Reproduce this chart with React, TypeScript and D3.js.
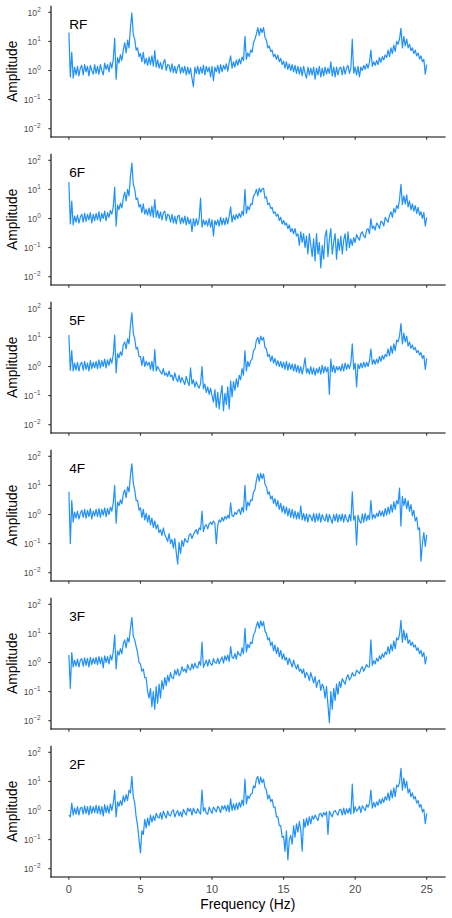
import React from "react";
import * as d3 from "d3";

// Frequency grid: 0 to 25 Hz, one reading every 0.1 Hz
const freqHz = d3.range(251).map((i) => i / 10);

const panelLabels = ["RF", "6F", "5F", "4F", "3F", "2F"];
const xTicks = [0, 5, 10, 15, 20, 25];
const yTicks = [-2, -1, 0, 1, 2];

// Amplitude, one row per Hz (x.0 ... x.9), last value at 25.0 Hz
const ampRF = [
  20, 0.6, 4.2, 0.55, 1.3, 0.7, 1.4, 0.65, 1.2, 1.5,
  0.7, 1.6, 0.9, 1.4, 0.65, 1.5, 1.0, 0.75, 1.6, 0.8,
  1.4, 0.75, 1.6, 1.0, 0.7, 1.8, 1.1, 1.6, 0.9, 1.9,
  1.2, 2.4, 13, 0.5, 2.8, 1.8, 3.5, 2.2, 5, 9,
  4, 11, 6, 30, 95, 17, 12, 5, 6, 3,
  3.8, 2, 4.2, 1.7, 2.6, 1.5, 2.9, 1.6, 3.2, 1.4,
  4.8, 1.3, 2.3, 1.2, 1.9, 1.1, 1.8, 2.4, 1.0, 1.6,
  1.5, 0.9, 1.7, 0.85, 1.4, 0.8, 1.3, 1.6, 0.8, 1.3,
  0.85, 1.4, 0.7, 1.3, 0.75, 1.2, 0.55, 0.28, 1.3, 0.8,
  1.4, 0.75, 1.3, 0.8, 1.5, 0.7, 1.4, 0.9, 1.3, 0.6,
  1.4, 0.45, 1.3, 0.9, 1.5, 0.8, 1.6, 0.9, 1.5, 1.1,
  1.7, 0.95, 1.9, 3.2, 1.2, 2.0, 1.3, 2.3, 1.5, 2.5,
  1.7, 2.9, 2.2, 15, 2.4, 4, 3, 5, 4.2, 9,
  12, 18, 30, 16, 28, 20, 30, 14, 11, 6,
  7, 4.5, 5, 3, 3.6, 2.4, 3.4, 2.0, 2.6, 1.6,
  2.1, 1.2, 2.0, 1.1, 1.7, 1.0, 1.6, 0.9, 1.5, 0.8,
  1.4, 0.75, 1.3, 0.65, 1.4, 0.8, 0.55, 1.3, 0.7, 1.2,
  0.7, 1.3, 0.5, 1.2, 0.7, 1.4, 0.6, 1.2, 0.65, 1.3,
  0.75, 1.2, 0.8, 2.0, 0.65, 1.3, 0.6, 1.3, 0.7, 1.2,
  1.3, 0.7, 1.4, 0.75, 1.2, 1.5, 0.8, 1.2, 12, 0.8,
  1.3, 0.7, 1.4, 0.6, 1.3, 1.0, 1.5, 1.1, 1.7, 1.2,
  1.9, 5, 1.4, 2.0, 1.5, 2.2, 1.6, 2.8, 1.9, 3.0,
  2.3, 3.4, 2.8, 5, 3, 6, 3.8, 7.5, 4.5, 10,
  8, 12, 28, 6, 15, 7, 12, 6, 8, 4.8,
  6, 3.8, 5, 3.2, 4, 2.5, 3.2, 2.0, 2.4, 0.75,
  1.6,
];

const amp6F = [
  18, 0.65, 4, 0.6, 1.2, 0.75, 1.3, 0.7, 1.1, 1.4,
  0.75, 1.5, 0.8, 1.4, 0.9, 1.6, 0.7, 1.4, 0.85, 1.5,
  0.9, 1.7, 0.8, 1.5, 1.0, 1.8, 0.85, 1.6, 1.1, 1.9,
  1.4, 2.5, 12, 0.55, 2.9, 2.0, 3.4, 2.3, 5, 8,
  4, 10, 6, 28, 80, 15, 10, 4.5, 5, 2.5,
  3, 1.6, 3.2, 1.4, 2.1, 1.3, 2.3, 1.2, 2.6, 1.1,
  4.5, 1.1, 1.9, 1.0, 1.7, 0.9, 1.6, 1.8, 0.85, 1.4,
  1.3, 0.75, 1.4, 0.7, 1.2, 0.65, 1.2, 1.3, 0.65, 1.1,
  0.7, 1.2, 0.6, 1.1, 0.65, 0.95, 0.35, 1.0, 0.55, 1.0,
  0.6, 0.95, 5, 0.5, 0.9, 0.6, 0.85, 0.55, 1.0, 0.5,
  0.9, 0.25, 0.85, 0.6, 0.9, 0.55, 1.1, 0.6, 1.0, 0.6,
  1.1, 0.65, 1.2, 2.5, 0.75, 1.3, 0.9, 1.4, 1.0, 1.5,
  1.1, 1.8, 1.3, 10, 1.5, 2.6, 2.0, 3.2, 3, 6,
  7, 10, 6, 11, 8, 10.5, 11, 5, 5.5, 3,
  3.4, 2.2, 2.4, 1.5, 1.7, 1.2, 1.4, 0.85, 1.1, 0.65,
  0.85, 0.6, 0.7, 0.45, 0.6, 0.35, 0.45, 0.3, 0.45, 0.25,
  0.3, 0.12, 0.35, 0.15, 0.3, 0.1, 0.25, 0.06, 0.3, 0.12,
  0.05, 0.2, 0.035, 0.3, 0.06, 0.15, 0.02, 0.12, 0.04, 0.25,
  0.4, 0.05, 0.2, 0.45, 0.06, 0.15, 0.3, 0.04, 0.2, 0.08,
  0.25, 0.06, 0.18, 0.3, 0.08, 0.35, 0.1, 0.2, 0.12, 0.22,
  0.15, 0.28, 0.22, 0.18, 0.3, 0.35, 0.25, 0.22, 0.4, 0.45,
  0.3, 1.0, 0.45, 0.55, 0.4, 0.7, 0.6, 0.45, 0.8, 0.75,
  0.55, 1.1, 0.9, 0.75, 1.3, 1.7, 1.1, 2.2, 1.6, 2.8,
  2.2, 4.5, 15, 3, 6, 3.2, 6.5, 2.5, 4, 2,
  3.2, 1.8, 2.8, 1.5, 2.4, 1.3, 1.7, 1.0, 1.6, 0.55,
  1.1,
];

const amp5F = [
  12, 0.75, 3.5, 0.7, 1.3, 0.75, 1.4, 0.7, 1.2, 1.4,
  0.75, 1.5, 0.8, 1.3, 0.7, 1.6, 0.85, 1.4, 0.9, 1.5,
  0.85, 1.7, 0.9, 1.6, 1.0, 1.8, 0.9, 1.7, 1.1, 1.9,
  1.3, 2.5, 12, 0.6, 2.8, 2.0, 3.2, 2.4, 5.5, 7,
  4, 9, 6, 25, 70, 14, 9, 4, 4.5, 2.2,
  2.2, 1.1, 2.2, 1.0, 1.5, 1.1, 1.4, 0.8, 1.5, 0.7,
  3.8, 0.7, 1.0, 0.8, 0.65, 0.55, 0.85, 0.5, 0.6, 0.45,
  0.7, 0.45, 0.5, 0.33, 0.6, 0.38, 0.3, 0.5, 0.28, 0.42,
  0.32, 0.24, 0.46, 0.3, 0.22, 0.9, 0.25, 0.35, 0.2, 0.3,
  0.22, 0.18, 0.26, 1.0, 0.17, 0.25, 0.13, 0.2, 0.11, 0.18,
  0.1, 0.06, 0.16, 0.04, 0.13, 0.035, 0.1, 0.22, 0.03, 0.12,
  0.05, 0.2, 0.035, 0.32, 0.09, 0.3, 0.15, 0.38, 0.2, 0.5,
  0.35, 0.85, 0.5, 3.5, 0.7, 1.5, 1.0, 1.6, 1.8, 3.5,
  4, 8, 10, 6, 11, 8, 10, 4.5, 4, 2.2,
  2.6, 1.5, 2.3, 1.3, 1.9, 1.1, 1.6, 1.0, 1.5, 0.9,
  1.4, 0.8, 1.5, 0.75, 1.3, 0.8, 1.2, 0.7, 1.2, 0.65,
  1.1, 0.6, 1.0, 0.55, 0.95, 2.0, 0.6, 0.85, 0.55, 1.0,
  0.55, 0.9, 0.5, 0.85, 0.6, 0.95, 0.55, 1.1, 0.6, 1.0,
  0.65, 0.95, 0.11, 1.8, 0.65, 1.1, 0.6, 1.0, 0.75, 1.0,
  0.7, 1.2, 0.7, 1.3, 0.8, 1.2, 0.85, 1.3, 6, 0.8,
  1.3, 0.2, 1.2, 0.85, 1.3, 0.9, 1.4, 0.95, 1.4, 1.0,
  1.6, 4, 1.2, 1.7, 1.2, 1.8, 1.3, 2.2, 1.5, 2.4,
  1.8, 2.6, 2.2, 4, 2.3, 5, 2.8, 6, 3.5, 8,
  7, 11, 30, 6, 14, 7, 11, 5, 7, 4.2,
  5.5, 3.8, 4.5, 3, 3.5, 2.5, 3.0, 1.9, 2.4, 0.8,
  1.9,
];

const amp4F = [
  6, 0.1, 3, 0.55, 1.2, 0.75, 1.3, 0.7, 1.1, 1.4,
  0.8, 1.5, 0.75, 1.4, 0.85, 1.6, 0.7, 1.3, 0.9, 1.5,
  0.85, 1.6, 0.8, 1.5, 0.95, 1.7, 0.85, 1.6, 1.0, 1.8,
  1.3, 2.5, 10, 0.5, 2.7, 2.0, 3.2, 2.3, 5, 7,
  3.8, 9, 6, 22, 55, 12, 7, 3, 3, 1.4,
  1.7, 0.8, 1.5, 0.65, 1.1, 0.55, 0.95, 0.45, 0.75, 0.36,
  0.6, 0.32, 0.45, 0.24, 0.3, 0.19, 0.35, 0.2, 0.16, 0.12,
  0.22, 0.1, 0.14, 0.07, 0.15, 0.05, 0.02, 0.11, 0.045, 0.13,
  0.08, 0.15, 0.12, 0.11, 0.19, 0.22, 0.15, 0.2, 0.26, 0.3,
  0.21, 0.35, 0.3, 1.3, 0.26, 0.4, 0.45, 0.32, 0.48, 0.55,
  0.45, 0.6, 0.5, 0.1, 0.42, 0.65, 0.55, 0.8, 0.6, 0.85,
  0.7, 0.95, 0.75, 2.5, 0.9, 0.85, 1.2, 1.0, 1.3, 1.5,
  1.0, 1.8, 1.2, 10, 1.4, 2.7, 2.0, 3.2, 3, 6,
  7, 15, 25, 14, 26, 17, 25, 11, 9, 5,
  6, 3.4, 4.3, 2.4, 3.5, 1.9, 3.0, 1.5, 2.4, 1.2,
  2.0, 1.05, 1.8, 0.9, 1.6, 0.8, 1.5, 0.75, 1.3, 0.7,
  1.2, 0.7, 2.0, 0.65, 1.1, 0.6, 1.05, 0.55, 1.0, 0.85,
  0.6, 1.1, 0.55, 1.05, 0.6, 1.1, 0.55, 1.0, 0.7, 0.6,
  1.05, 0.55, 1.0, 0.7, 0.5, 1.0, 0.6, 1.05, 0.55, 1.0,
  0.6, 1.05, 0.55, 1.0, 0.7, 0.55, 1.0, 0.6, 6, 0.65,
  0.9, 0.09, 0.95, 0.6, 0.5, 1.05, 0.55, 1.1, 0.6, 0.95,
  0.65, 3, 0.7, 1.0, 0.75, 1.1, 0.85, 1.35, 0.9, 1.3,
  0.85, 1.6, 0.95, 1.8, 1.05, 2.2, 1.2, 2.7, 1.5, 3.0,
  2.3, 8, 0.4, 4.2, 2.0, 3.6, 1.6, 3.0, 1.3, 2.2,
  0.9, 1.4, 0.6, 0.8, 0.3, 0.35, 0.025, 0.1, 0.24, 0.08,
  0.2,
];

const amp3F = [
  1.8, 0.13, 2.2, 0.7, 1.2, 0.75, 1.3, 0.7, 1.2, 1.35,
  0.75, 1.45, 0.8, 1.4, 0.7, 1.5, 0.85, 1.4, 0.9, 1.5,
  0.85, 1.6, 0.9, 1.5, 0.65, 1.7, 1.0, 1.6, 0.9, 1.8,
  1.2, 2.3, 9, 0.6, 2.5, 1.8, 3.0, 2.0, 4.5, 6,
  3.2, 7, 5, 15, 35, 8, 6, 3.5, 2.2, 1.0,
  0.9, 0.5, 0.6, 0.3, 0.3, 0.1, 0.06, 0.13, 0.03, 0.1,
  0.025, 0.15, 0.04, 0.18, 0.06, 0.24, 0.12, 0.3, 0.16, 0.36,
  0.22, 0.45, 0.3, 0.28, 0.55, 0.38, 0.6, 0.35, 0.42, 0.72,
  0.5, 0.6, 0.45, 0.85, 0.62, 0.55, 0.9, 0.6, 0.95, 0.7,
  0.65, 1.1, 0.8, 5, 0.68, 0.9, 1.2, 0.75, 1.25, 0.9,
  0.8, 1.35, 1.0, 0.95, 1.4, 0.9, 1.25, 1.55, 0.95, 1.7,
  1.2, 1.8, 1.1, 3.5, 1.5, 1.4, 2.0, 1.3, 2.4, 1.9,
  1.7, 3.2, 2.0, 15, 2.3, 4.2, 3.2, 5, 4.5, 9,
  11, 18, 25, 15, 27, 18, 25, 12, 10, 6,
  7, 3.8, 5, 2.5, 4, 2.0, 3.3, 1.6, 2.6, 1.3,
  2.0, 1.2, 1.5, 0.85, 1.4, 1.0, 0.7, 1.2, 0.8, 0.6,
  0.85, 0.5, 0.6, 0.42, 0.6, 0.3, 0.45, 0.38, 0.24, 0.45,
  0.3, 0.2, 0.33, 0.14, 0.22, 0.25, 0.11, 0.18, 0.14, 0.06,
  0.15, 0.035, 0.0085, 0.1, 0.025, 0.13, 0.05, 0.18, 0.08, 0.22,
  0.14, 0.28, 0.22, 0.18, 0.3, 0.38, 0.25, 0.3, 0.45, 0.35,
  0.35, 0.55, 0.48, 0.42, 0.6, 0.72, 0.5, 0.65, 0.85, 0.7,
  0.7, 6, 0.8, 1.15, 0.9, 1.4, 1.1, 1.7, 1.3, 2.0,
  1.5, 2.3, 1.9, 3.5, 2.0, 4.2, 2.5, 5.5, 3.0, 7,
  6, 9, 28, 5, 13, 6, 10, 4.5, 6, 3.8,
  5, 3.4, 4, 2.6, 3.2, 2.0, 2.6, 1.6, 2.2, 0.9,
  1.6,
];

const amp2F = [
  0.7, 0.6, 1.8, 0.7, 1.2, 0.75, 1.35, 0.7, 1.2, 1.3,
  0.75, 1.45, 0.8, 1.35, 0.7, 1.45, 0.8, 1.35, 0.85, 1.5,
  0.8, 1.45, 0.75, 1.35, 0.65, 1.6, 0.85, 1.45, 0.8, 1.7,
  1.0, 1.8, 5, 0.6, 2.0, 1.4, 2.2, 1.5, 3.2, 2.0,
  3.5, 2.2, 5, 4, 15, 3, 1.8, 0.6, 0.3, 0.1,
  0.035, 0.2, 0.15, 0.5, 0.25, 0.55, 0.3, 0.7, 0.4, 0.65,
  0.45, 0.8, 0.6, 0.55, 0.85, 0.5, 0.95, 0.7, 0.55, 0.95,
  0.7, 0.65, 0.95, 1.05, 0.6, 0.8, 1.0, 0.65, 0.9, 0.6,
  1.1, 0.85, 0.7, 1.2, 0.95, 1.15, 0.7, 1.2, 0.9, 0.8,
  1.15, 0.9, 0.75, 5, 0.95, 1.25, 0.8, 0.75, 1.3, 1.0,
  0.8, 1.3, 1.1, 0.9, 1.4, 1.2, 0.85, 1.45, 1.1, 1.5,
  0.95, 1.55, 0.9, 2.5, 1.0, 1.7, 1.05, 1.8, 1.1, 1.9,
  1.3, 2.3, 1.5, 12, 1.7, 3.2, 2.6, 3.6, 3.8, 7,
  6, 12, 15, 8, 14, 9, 12, 6, 5, 2.5,
  3.4, 2.0, 2.4, 1.3, 1.3, 0.6, 0.6, 0.3, 0.3, 0.12,
  0.13, 0.04, 0.2, 0.02, 0.1, 0.14, 0.07, 0.3, 0.12, 0.35,
  0.18, 0.42, 0.22, 0.04, 0.5, 0.26, 0.55, 0.3, 0.6, 0.35,
  0.65, 0.5, 0.7, 0.55, 0.45, 0.75, 0.8, 0.6, 0.85, 0.7,
  0.9, 0.15, 0.95, 0.75, 0.6, 0.9, 1.0, 0.8, 0.7, 1.05,
  1.1, 0.7, 1.2, 0.72, 1.15, 0.8, 1.2, 0.75, 8, 0.8,
  1.35, 0.95, 1.1, 1.4, 0.85, 1.45, 1.2, 1.0, 1.6, 1.3,
  1.7, 5, 1.2, 1.9, 1.3, 2.0, 1.5, 2.4, 1.7, 2.6,
  1.9, 3, 2.3, 4, 2.2, 5, 2.7, 6, 3, 7.5,
  6.5, 9, 28, 5, 13, 6, 10, 4, 5.5, 3,
  4, 2.5, 3, 1.8, 2.2, 1.3, 1.6, 0.9, 1.1, 0.35,
  0.8,
];

const series = [ampRF, amp6F, amp5F, amp4F, amp3F, amp2F];

const font = "'Liberation Sans', Arial, Helvetica, sans-serif";

export default function App() {
  const width = 452;
  const height = 918;
  const step = 148; // vertical distance between panels
  const left = 51;
  const right = 444.6;

  const x = d3.scaleLinear().domain([-1.25, 26.25]).range([left, right]);

  return (
    <svg
      width={width}
      height={height}
      style={{ position: "absolute", left: 0, top: 0, background: "#fff" }}
      fontFamily={font}
    >
      {series.map((values, i) => {
        const off = i * step;
        const top = 5.7 + off;
        const bottom = 137 + off;
        const y = d3.scaleLog().domain([1e-2, 1e2]).range([128.7 + off, 12.3 + off]);
        const line = d3
          .line<number>()
          .x((_, j) => x(freqHz[j]))
          .y((d) => y(d));
        const isLast = i === series.length - 1;
        return (
          <g key={panelLabels[i]}>
            <path
              d={line(values) ?? ""}
              fill="none"
              stroke="#1E90FF"
              strokeWidth={1.2}
              strokeLinejoin="round"
            />
            {/* y axis */}
            <line x1={left} x2={left} y1={top} y2={bottom + 0.5} stroke="#000" strokeWidth={1.1} />
            {yTicks.map((p) => (
              <g key={p}>
                <line x1={left - 2.7} x2={left} y1={y(10 ** p)} y2={y(10 ** p)} stroke="#333" strokeWidth={1.1} />
                <text x={40.7} y={y(10 ** p) + 3.2} textAnchor="end" fontSize={8.6} fill="#4D4D4D">
                  10
                  <tspan dy={-3.8} fontSize={6.4}>
                    {p < 0 ? `\u2212${-p}` : `${p}`}
                  </tspan>
                </text>
              </g>
            ))}
            {/* x axis */}
            <line x1={left - 0.5} x2={right + 1} y1={bottom} y2={bottom} stroke="#000" strokeWidth={1.1} />
            {xTicks.map((t) => (
              <g key={t}>
                <line x1={x(t)} x2={x(t)} y1={bottom} y2={bottom + 2.7} stroke="#333" strokeWidth={1.1} />
                {isLast && (
                  <text x={x(t)} y={bottom + 15.6} textAnchor="middle" fontSize={11} fill="#4D4D4D">
                    {t}
                  </text>
                )}
              </g>
            ))}
            <text
              transform={`translate(17,${(top + bottom) / 2}) rotate(-90)`}
              textAnchor="middle"
              fontSize={13.8}
              fill="#000"
            >
              Amplitude
            </text>
            <text x={69.3} y={29 + off} fontSize={13.6} fill="#000">
              {panelLabels[i]}
            </text>
          </g>
        );
      })}
      <text x={(left + right) / 2} y={908.5} textAnchor="middle" fontSize={13.8} fill="#000">
        Frequency (Hz)
      </text>
    </svg>
  );
}
